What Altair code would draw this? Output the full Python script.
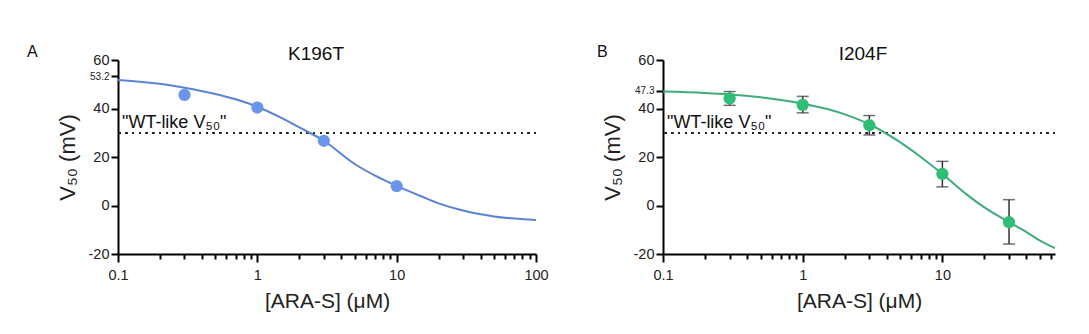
import altair as alt
import pandas as pd

# ---------------- data ----------------
# Panel A: K196T
a_curve_x = [0.1, 0.2, 0.3, 0.5, 0.7, 1, 1.5, 2, 3, 5, 7, 10, 15, 20, 30, 50, 70, 100]
a_curve_y = [51.8, 50.2, 48.6, 46.0, 43.8, 40.7, 36.0, 32.2, 26.7, 17.1, 12.3, 8.1, 3.8, 0.9, -2.1, -4.5, -5.4, -6.0]
a_pts_x = [0.3, 1, 3, 10]
a_pts_y = [45.6, 40.4, 26.7, 8.0]

# Panel B: I204F
b_curve_x = [0.1, 0.2, 0.3, 0.5, 0.7, 1, 1.5, 2, 3, 5, 7, 10, 15, 20, 30, 40, 50, 64]
b_curve_y = [47.0, 46.4, 45.8, 44.6, 43.5, 42.0, 39.8, 37.6, 33.5, 26.0, 20.0, 13.0, 4.5, -0.8, -6.9, -11.0, -14.5, -17.6]
b_pts_x = [0.3, 1, 3, 10, 30]
b_pts_y = [44.2, 41.5, 33.1, 13.0, -6.9]
b_err_lo = [41.3, 38.2, 29.1, 7.7, -15.9]
b_err_hi = [47.0, 45.0, 37.1, 18.2, 2.4]

wt_like = 30
a_top = 53.2
b_top = 47.3

FONT = "Liberation Sans"
PLOT_H = 194
DECADES = "[0.1, 1, 10, 100]"


def panel(letter, title, cx, cy, px, py, top, xmax, ticks, width,
          line_color, pt_color, title_dx, letter_dx, lo=None, hi=None):
    xscale = alt.Scale(type="log", domain=[0.1, xmax], nice=False)
    yscale = alt.Scale(domain=[-20, 60], nice=False, zero=False)
    xaxis = alt.Axis(
        values=ticks,
        labelExpr="indexof(%s, datum.value) >= 0 ? format(datum.value, '~g') : ''" % DECADES,
        tickSize={"condition": {"test": "indexof(%s, datum.value) >= 0" % DECADES, "value": 8}, "value": 5},
        title="[ARA-S] (μM)",
        titleFontSize=21, titleFontWeight="normal", titlePadding=9,
        labelFontSize=14.5, labelPadding=6, grid=False,
        domainColor="black", domainWidth=2, tickColor="black", tickWidth=2,
        labelColor="#222", titleColor="#222", labelFont=FONT, titleFont=FONT,
        labelOverlap=False, labelFlush=False,
    )
    yaxis = alt.Axis(
        values=[-20, 0, 20, 40, top, 60],
        labelExpr="'' + datum.value",
        labelFontSize={"condition": {"test": "datum.value == %s" % top, "value": 10}, "value": 14.5},
        tickSize=7, title="V₅₀ (mV)", titleFontSize=22, titleFontWeight="normal",
        titlePadding=9, grid=False, labelPadding=2,
        domainColor="black", domainWidth=2, tickColor="black", tickWidth=2,
        labelColor="#222", titleColor="#222", labelFont=FONT, titleFont=FONT,
        labelOverlap=False, labelFlush=False,
    )

    curve_df = pd.DataFrame({"x": cx, "y": cy})
    pts_df = pd.DataFrame({"x": px, "y": py})

    X = alt.X("x:Q", scale=xscale, axis=xaxis)
    Y = alt.Y("y:Q", scale=yscale, axis=yaxis)

    rule = alt.Chart(curve_df).mark_rule(
        color="#222", strokeDash=[1.5, 5.2], strokeWidth=1.5
    ).encode(y=alt.datum(wt_like, scale=yscale, axis=yaxis))

    line = alt.Chart(curve_df).mark_line(
        color=line_color, strokeWidth=2, interpolate="monotone", clip=True
    ).encode(x=X, y=Y)

    layers = [rule, line]

    if lo is not None:
        err_df = pd.DataFrame({"x": px, "lo": lo, "hi": hi})
        EX = alt.X("x:Q", scale=xscale, axis=xaxis)
        err = alt.Chart(err_df).mark_rule(color="#333", strokeWidth=1.5).encode(
            x=EX, y=alt.Y("lo:Q", scale=yscale, axis=yaxis), y2="hi:Q",
        )
        cap_lo = alt.Chart(err_df).mark_tick(color="#333", thickness=1.5, size=12, orient="horizontal").encode(
            x=EX, y=alt.Y("lo:Q", scale=yscale, axis=yaxis),
        )
        cap_hi = alt.Chart(err_df).mark_tick(color="#333", thickness=1.5, size=12, orient="horizontal").encode(
            x=EX, y=alt.Y("hi:Q", scale=yscale, axis=yaxis),
        )
        layers += [err, cap_lo, cap_hi]

    pts = alt.Chart(pts_df).mark_circle(color=pt_color, size=150, opacity=1).encode(x=X, y=Y)
    layers.append(pts)

    label_df = pd.DataFrame({"t": ['"WT-like V₅₀"']})
    wt_text = alt.Chart(label_df).mark_text(
        align="left", baseline="alphabetic", fontSize=18, font=FONT, color="#111"
    ).encode(x=alt.value(4), y=alt.datum(31.9, scale=yscale, axis=yaxis), text="t:N")

    title_df = pd.DataFrame({"t": [title]})
    title_text = alt.Chart(title_df).mark_text(
        align="center", baseline="alphabetic", fontSize=19, font=FONT, color="#111"
    ).encode(x=alt.value(width / 2 + title_dx), y=alt.value(0), text="t:N")

    letter_df = pd.DataFrame({"t": [letter]})
    letter_text = alt.Chart(letter_df).mark_text(
        align="left", baseline="alphabetic", fontSize=16, font=FONT, color="#111"
    ).encode(x=alt.value(letter_dx), y=alt.value(-3), text="t:N")

    layers += [wt_text, title_text, letter_text]
    return alt.layer(*layers).properties(width=width, height=PLOT_H)


a_ticks = [0.1, 0.2, 0.3, 0.4, 0.5, 0.6, 0.7, 0.8, 0.9, 1, 2, 3, 4, 5, 6, 7, 8, 9,
           10, 20, 30, 40, 50, 60, 70, 80, 90, 100]
b_ticks = [0.1, 0.2, 0.3, 0.4, 0.5, 0.6, 0.7, 0.8, 0.9, 1, 2, 3, 4, 5, 6, 7, 8, 9,
           10, 20, 30, 40, 50, 60]

pa = panel("A", "K196T", a_curve_x, a_curve_y, a_pts_x, a_pts_y, a_top, 100,
           a_ticks, 418, "#5A83D3", "#6A95EA", -11, -91)
pb = panel("B", "I204F", b_curve_x, b_curve_y, b_pts_x, b_pts_y, b_top, 64,
           b_ticks, 392, "#3EAD7A", "#2FBF74", 4, -66,
           lo=b_err_lo, hi=b_err_hi)

chart = alt.hconcat(pa, pb, spacing=127, bounds="flush").properties(
    padding={"left": 27, "top": 44, "right": 5, "bottom": 5},
    background="white",
).configure_view(stroke=None)

chart.save("out.html", embed_options={"renderer": "svg", "actions": False})
